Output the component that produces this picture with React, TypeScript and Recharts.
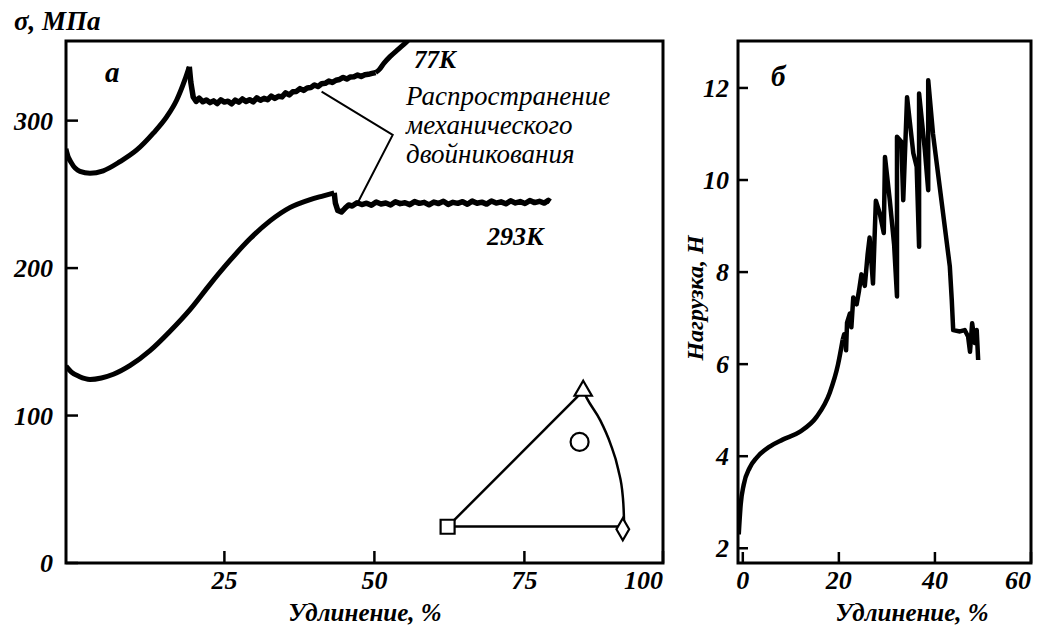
import React from 'react';
import { ComposedChart, Line, Scatter, XAxis, YAxis, ReferenceArea, Symbols } from 'recharts';

const serif = "'Liberation Serif', 'Times New Roman', serif";

// панель а: σ от удлинения
const xDomainA: [number, number] = [-1.4, 98.1];
const yDomainA: [number, number] = [0, 354];
const xTicksA = [25, 50, 75, 98.1];
const yTicksA = [0, 100, 200, 300];

const rise77K = [
  { x: -1.4, y: 281 }, { x: -1.3, y: 279 }, { x: -0.45, y: 271 }, { x: 0.93, y: 265.6 },
  { x: 2.6, y: 264.3 }, { x: 4.8, y: 266 }, { x: 7.6, y: 272.2 }, { x: 10.4, y: 280.1 },
  { x: 13.15, y: 291.5 }, { x: 15.4, y: 302.7 }, { x: 17.05, y: 314 }, { x: 18.4, y: 327.6 },
  { x: 19.15, y: 336.6 },
];

const plateau77K = [
  { x: 19.15, y: 336.6 }, { x: 19.4, y: 326 }, { x: 19.8, y: 316 }, { x: 20.3, y: 313 },
  { x: 20.8, y: 315.2 }, { x: 21.4, y: 312.8 }, { x: 22.0, y: 314.0 }, { x: 22.6, y: 312.2 },
  { x: 23.2, y: 313.4 }, { x: 23.8, y: 311.6 }, { x: 24.4, y: 314.1 }, { x: 25.0, y: 312.6 },
  { x: 25.6, y: 313.2 }, { x: 26.2, y: 311.4 }, { x: 26.8, y: 313.9 }, { x: 27.4, y: 312.5 },
  { x: 28.0, y: 314.7 }, { x: 28.6, y: 313.0 }, { x: 29.2, y: 314.2 }, { x: 29.8, y: 312.7 },
  { x: 30.4, y: 315.4 }, { x: 31.0, y: 313.8 }, { x: 31.6, y: 315.1 }, { x: 32.2, y: 314.2 },
  { x: 32.8, y: 316.6 }, { x: 33.4, y: 315.1 }, { x: 34.0, y: 316.5 }, { x: 34.6, y: 316.1 },
  { x: 35.2, y: 318.8 }, { x: 35.8, y: 317.4 }, { x: 36.4, y: 319.6 }, { x: 37.0, y: 319.8 },
  { x: 37.6, y: 321.7 }, { x: 38.2, y: 320.5 }, { x: 38.8, y: 322.1 }, { x: 39.4, y: 322.4 },
  { x: 40.0, y: 324.2 }, { x: 40.6, y: 323.1 }, { x: 41.2, y: 325.0 }, { x: 41.8, y: 325.3 },
  { x: 42.4, y: 326.8 }, { x: 43.0, y: 325.9 }, { x: 43.6, y: 327.4 }, { x: 44.2, y: 327.9 },
  { x: 44.8, y: 329.3 }, { x: 45.4, y: 328.2 }, { x: 46.0, y: 329.6 }, { x: 46.6, y: 329.8 },
  { x: 47.2, y: 330.9 }, { x: 47.8, y: 330.0 }, { x: 48.4, y: 331.1 }, { x: 49.0, y: 331.4 },
  { x: 49.6, y: 332.0 }, { x: 50.2, y: 332.6 },
];

const knee77K = [
  { x: 50.2, y: 332.6 }, { x: 50.8, y: 334.6 }, { x: 51.6, y: 339 }, { x: 52.6, y: 343.4 },
  { x: 54.0, y: 348.5 }, { x: 55.4, y: 353.6 }, { x: 56.6, y: 358.5 },
];

const rise293K = [
  { x: -1.4, y: 133.5 }, { x: -0.5, y: 129.5 }, { x: 0.8, y: 126.5 }, { x: 2.6, y: 124.5 },
  { x: 4.5, y: 125.5 }, { x: 6.5, y: 128 }, { x: 9.3, y: 134 }, { x: 12.6, y: 144 },
  { x: 15.9, y: 157 }, { x: 19.3, y: 172 }, { x: 22.6, y: 189 }, { x: 25.9, y: 205 },
  { x: 29.3, y: 220 }, { x: 32.6, y: 232 }, { x: 35.9, y: 241 }, { x: 39.3, y: 246.5 },
  { x: 41.5, y: 249 }, { x: 43.3, y: 251 },
];

const plateau293K = [
  { x: 43.3, y: 251 }, { x: 43.5, y: 244 }, { x: 43.9, y: 239 }, { x: 44.5, y: 238 },
  { x: 45.1, y: 240.5 }, { x: 45.7, y: 242.8 }, { x: 46.3, y: 242.1 }, { x: 47.1, y: 244.3 },
  { x: 47.9, y: 243.1 }, { x: 48.7, y: 244.0 }, { x: 49.5, y: 242.6 }, { x: 50.3, y: 244.8 },
  { x: 51.1, y: 243.5 }, { x: 51.9, y: 244.1 }, { x: 52.7, y: 242.8 }, { x: 53.5, y: 245.0 },
  { x: 54.3, y: 243.7 }, { x: 55.1, y: 244.3 }, { x: 55.9, y: 243.0 }, { x: 56.7, y: 245.1 },
  { x: 57.5, y: 243.9 }, { x: 58.3, y: 244.6 }, { x: 59.1, y: 242.9 }, { x: 59.9, y: 244.8 },
  { x: 60.7, y: 243.8 }, { x: 61.5, y: 245.3 }, { x: 62.3, y: 243.2 }, { x: 63.1, y: 244.6 },
  { x: 63.9, y: 243.9 }, { x: 64.7, y: 245.0 }, { x: 65.5, y: 243.3 }, { x: 66.3, y: 245.4 },
  { x: 67.1, y: 244.0 }, { x: 67.9, y: 244.7 }, { x: 68.7, y: 243.4 }, { x: 69.5, y: 245.5 },
  { x: 70.3, y: 244.1 }, { x: 71.1, y: 244.9 }, { x: 71.9, y: 243.6 }, { x: 72.7, y: 245.6 },
  { x: 73.5, y: 244.2 }, { x: 74.3, y: 245.1 }, { x: 75.1, y: 243.8 }, { x: 75.9, y: 245.8 },
  { x: 76.7, y: 244.4 }, { x: 77.5, y: 245.3 }, { x: 78.3, y: 244.1 }, { x: 79.0, y: 245.9 },
  { x: 79.3, y: 245.0 },
];

// выноска "Распространение механического двойникования"
const leader = [{ x: 41.2, y: 319.7 }, { x: 53.05, y: 290.3 }, { x: 47.05, y: 242.9 }];

// стереографический треугольник
const pole001 = [{ x: 62.2, y: 24.6 }];
const pole111 = [{ x: 84.8, y: 116.8 }];
const pole101 = [{ x: 91.4, y: 22.9 }];
const axisPoint = [{ x: 84.2, y: 82.1 }];
const sideLeft = [{ x: 62.2, y: 24.6 }, { x: 84.8, y: 116.8 }];
const sideBase = [{ x: 62.2, y: 24.7 }, { x: 91.4, y: 24.7 }];
const sideArc = [
  { x: 84.8, y: 116.8 }, { x: 85.4, y: 111.8 }, { x: 87.6, y: 97.1 }, { x: 89.3, y: 81.3 },
  { x: 90.65, y: 63.2 }, { x: 91.4, y: 45.1 }, { x: 91.6, y: 29.3 }, { x: 91.62, y: 23.5 },
];

// панель б: нагрузка от удлинения
const xDomainB: [number, number] = [-1, 60];
const yDomainB: [number, number] = [1.68, 13.02];
const xTicksB = [0, 20, 40, 60];
const yTicksB = [2, 4, 6, 8, 10, 12];

const loadSmooth = [
  { x: -0.85, y: 2.3 }, { x: -0.44, y: 2.95 }, { x: 0.19, y: 3.38 }, { x: 1.44, y: 3.75 },
  { x: 2.9, y: 3.97 }, { x: 5.6, y: 4.21 }, { x: 8.3, y: 4.36 }, { x: 11.85, y: 4.53 },
  { x: 15.4, y: 4.86 }, { x: 18.1, y: 5.38 }, { x: 19.8, y: 5.98 }, { x: 20.8, y: 6.53 },
];

const loadNoisy = [
  { x: 20.8, y: 6.53 }, { x: 21.1, y: 6.65 }, { x: 21.5, y: 6.3 }, { x: 21.7, y: 6.9 },
  { x: 22.3, y: 7.1 }, { x: 22.6, y: 6.8 }, { x: 23.0, y: 7.45 }, { x: 23.7, y: 7.3 },
  { x: 24.2, y: 7.6 }, { x: 24.7, y: 7.95 }, { x: 25.4, y: 7.7 }, { x: 26.0, y: 8.4 },
  { x: 26.4, y: 8.75 }, { x: 27.1, y: 7.75 }, { x: 27.7, y: 9.55 }, { x: 28.5, y: 9.28 },
  { x: 29.35, y: 8.85 }, { x: 29.6, y: 10.5 }, { x: 30.6, y: 9.56 }, { x: 31.5, y: 8.6 },
  { x: 32.1, y: 7.47 }, { x: 32.1, y: 10.94 }, { x: 33.0, y: 10.83 }, { x: 33.4, y: 9.56 },
  { x: 34.2, y: 11.8 }, { x: 35.5, y: 10.58 }, { x: 36.2, y: 10.29 }, { x: 36.7, y: 8.55 },
  { x: 36.7, y: 11.88 }, { x: 37.9, y: 10.65 }, { x: 38.6, y: 9.78 }, { x: 38.6, y: 12.17 },
  { x: 39.6, y: 11.0 }, { x: 41.0, y: 9.85 }, { x: 43.1, y: 8.12 }, { x: 43.5, y: 7.4 },
  { x: 43.8, y: 6.74 }, { x: 45.2, y: 6.71 }, { x: 46.2, y: 6.74 }, { x: 46.9, y: 6.6 },
  { x: 47.3, y: 6.27 }, { x: 47.75, y: 6.89 }, { x: 48.3, y: 6.46 }, { x: 48.7, y: 6.74 },
  { x: 49.0, y: 6.09 },
];

const tickFont = { fontFamily: serif, fontSize: 26, fontStyle: 'italic', fontWeight: 'bold' } as const;

function BottomTick(props: any) {
  const { x, y, payload, lastValue, lastLabel } = props;
  const isLast = payload.value === lastValue;
  return (
    <text x={x} y={y} dy="0.71em" textAnchor={isLast ? 'end' : 'middle'} fill="#000" {...tickFont}>
      {isLast && lastLabel ? lastLabel : payload.value}
    </text>
  );
}

function LeftTick(props: any) {
  const { x, y, payload } = props;
  return (
    <text x={x} y={y} dy="0.355em" textAnchor="end" fill="#000" {...tickFont}>
      {payload.value}
    </text>
  );
}

const black = '#000';

function Marker(type: any, size: number) {
  return (p: any) => (
    <Symbols cx={p.cx} cy={p.cy} type={type} size={size} fill="#fff" stroke={black} strokeWidth={2.2} />
  );
}

export default function App() {
  const txt = { fontFamily: serif, fill: black } as const;
  return (
    <div style={{ position: 'absolute', left: 0, top: 0, width: 1040, height: 629, background: '#fff' }}>
      <div style={{ position: 'absolute', left: 0, top: 0 }}>
        <ComposedChart width={680} height={629} margin={{ top: 41, right: 17, bottom: 26, left: 0 }}>
          <XAxis
            dataKey="x"
            type="number"
            domain={xDomainA}
            ticks={xTicksA}
            allowDataOverflow
            axisLine={false}
            tickLine={{ stroke: black, strokeWidth: 2.5 }}
            tickSize={-12}
            tickMargin={20}
            height={40}
            tick={<BottomTick lastValue={98.1} lastLabel="100" />}
          />
          <YAxis
            type="number"
            domain={yDomainA}
            ticks={yTicksA}
            allowDataOverflow
            axisLine={false}
            tickLine={{ stroke: black, strokeWidth: 2.5 }}
            tickSize={-12}
            tickMargin={25}
            width={66}
            tick={<LeftTick />}
          />
          <Line data={rise77K} dataKey="y" type="monotone" stroke={black} strokeWidth={5} dot={false} isAnimationActive={false} />
          <Line data={plateau77K} dataKey="y" type="linear" stroke={black} strokeWidth={5.5} dot={false} strokeLinejoin="round" isAnimationActive={false} />
          <Line data={knee77K} dataKey="y" type="monotone" stroke={black} strokeWidth={5} dot={false} isAnimationActive={false} />
          <Line data={rise293K} dataKey="y" type="monotone" stroke={black} strokeWidth={5} dot={false} isAnimationActive={false} />
          <Line data={plateau293K} dataKey="y" type="linear" stroke={black} strokeWidth={5.5} dot={false} strokeLinejoin="round" isAnimationActive={false} />
          <Line data={leader} dataKey="y" type="linear" stroke={black} strokeWidth={2} dot={false} isAnimationActive={false} />
          <Line data={sideLeft} dataKey="y" type="linear" stroke={black} strokeWidth={2.5} dot={false} isAnimationActive={false} />
          <Line data={sideBase} dataKey="y" type="linear" stroke={black} strokeWidth={2.5} dot={false} isAnimationActive={false} />
          <Line data={sideArc} dataKey="y" type="monotone" stroke={black} strokeWidth={2.5} dot={false} isAnimationActive={false} />
          <Scatter data={pole001} dataKey="y" shape={Marker('square', 196)} isAnimationActive={false} />
          <Scatter data={pole111} dataKey="y" shape={Marker('triangle', 130)} isAnimationActive={false} />
          <Scatter data={pole101} dataKey="y" shape={Marker('diamond', 140)} isAnimationActive={false} />
          <Scatter data={axisPoint} dataKey="y" shape={Marker('circle', 254)} isAnimationActive={false} />
          <ReferenceArea x1={xDomainA[0]} x2={xDomainA[1]} y1={yDomainA[0]} y2={yDomainA[1]} fill="none" stroke={black} strokeWidth={3} ifOverflow="visible" />
        </ComposedChart>
      </div>
      <div style={{ position: 'absolute', left: 680, top: 0 }}>
        <ComposedChart width={360} height={629} margin={{ top: 41, right: 9, bottom: 26, left: 0 }}>
          <XAxis
            dataKey="x"
            type="number"
            domain={xDomainB}
            ticks={xTicksB}
            allowDataOverflow
            axisLine={false}
            tickLine={{ stroke: black, strokeWidth: 2.5 }}
            tickSize={-11}
            tickMargin={19}
            height={40}
            tick={<BottomTick lastValue={60} />}
          />
          <YAxis
            type="number"
            domain={yDomainB}
            ticks={yTicksB}
            allowDataOverflow
            axisLine={false}
            tickLine={{ stroke: black, strokeWidth: 2.5 }}
            tickSize={-10}
            tickMargin={19}
            width={58}
            tick={<LeftTick />}
          />
          <Line data={loadSmooth} dataKey="y" type="monotone" stroke={black} strokeWidth={4.5} dot={false} isAnimationActive={false} />
          <Line data={loadNoisy} dataKey="y" type="linear" stroke={black} strokeWidth={4.5} dot={false} strokeLinejoin="round" isAnimationActive={false} />
          <ReferenceArea x1={xDomainB[0]} x2={xDomainB[1]} y1={yDomainB[0]} y2={yDomainB[1]} fill="none" stroke={black} strokeWidth={3} ifOverflow="visible" />
        </ComposedChart>
      </div>
      <svg width={1040} height={629} style={{ position: 'absolute', left: 0, top: 0, pointerEvents: 'none' }}>
        <text x={14} y={30} fontSize={27} fontStyle="italic" fontWeight="bold" {...txt}>σ, МПа</text>
        <text x={105} y={82} fontSize={29} fontStyle="italic" fontWeight="bold" {...txt}>а</text>
        <text x={771} y={86} fontSize={29} fontStyle="italic" fontWeight="bold" {...txt}>б</text>
        <text x={414} y={68} fontSize={25} fontStyle="italic" fontWeight="bold" {...txt}>77К</text>
        <text x={406} y={105} fontSize={27} fontStyle="italic" {...txt}>Распространение</text>
        <text x={406} y={134} fontSize={27} fontStyle="italic" {...txt}>механического</text>
        <text x={406} y={163} fontSize={27} fontStyle="italic" {...txt}>двойникования</text>
        <text x={487} y={245} fontSize={26} fontStyle="italic" fontWeight="bold" {...txt}>293К</text>
        <text x={365} y={621} fontSize={25} fontStyle="italic" fontWeight="bold" textAnchor="middle" {...txt}>Удлинение, %</text>
        <text x={912} y={621} fontSize={25} fontStyle="italic" fontWeight="bold" textAnchor="middle" {...txt}>Удлинение, %</text>
        <text x={0} y={0} transform="translate(703,298) rotate(-90)" fontSize={24} fontStyle="italic" fontWeight="bold" textAnchor="middle" {...txt}>Нагрузка, Н</text>
      </svg>
    </div>
  );
}
